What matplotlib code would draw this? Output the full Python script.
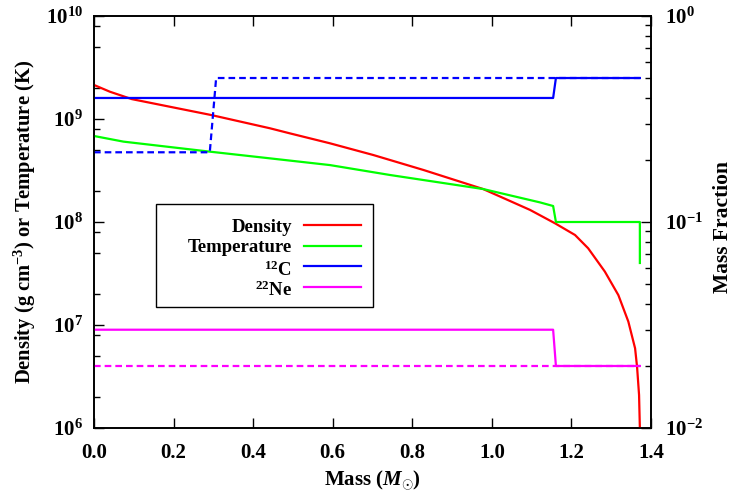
import math
import matplotlib
matplotlib.use("Agg")
import matplotlib.pyplot as plt
import matplotlib.ticker as mticker
from matplotlib.patches import Rectangle
from matplotlib.lines import Line2D

plt.rcParams['font.family'] = ['Liberation Serif', 'DejaVu Serif']
plt.rcParams['font.weight'] = 'bold'
plt.rcParams['mathtext.fontset'] = 'custom'
plt.rcParams['mathtext.rm'] = 'Liberation Serif:bold'
plt.rcParams['mathtext.bf'] = 'Liberation Serif:bold'
plt.rcParams['mathtext.it'] = 'Liberation Serif:italic'

# ---- data ----
dens_mass = [0.0, 0.04, 0.095, 0.296, 0.442, 0.492, 0.593, 0.702, 0.828, 0.978, 1.096,
             1.159, 1.209, 1.242, 1.284, 1.318, 1.343, 1.360, 1.365, 1.370, 1.372, 1.3725]
dens_vals = [2.14e9, 1.84e9, 1.56e9, 1.09e9, 8.13e8, 7.26e8, 5.81e8, 4.47e8, 3.20e8,
             2.09e8, 1.31e8, 9.7e7, 7.48e7, 5.56e7, 3.30e7, 1.95e7, 1.08e7, 5.94e6,
             3.91e6, 2.09e6, 1.0e6, 5.0e5]

temp_mass = [0.0, 0.074, 0.291, 0.442, 0.593, 0.744, 0.978, 1.121, 1.154, 1.161, 1.372, 1.372]
temp_vals = [6.84e8, 6.03e8, 4.82e8, 4.15e8, 3.57e8, 2.86e8, 2.09e8, 1.55e8, 1.43e8,
             1.0e8, 1.0e8, 4.0e7]

c12_mass = [0.0, 1.154, 1.161, 1.372]
c12_vals = [0.4, 0.4, 0.5, 0.5]
c12i_mass = [0.0, 0.291, 0.307, 1.372]
c12i_vals = [0.218, 0.218, 0.5, 0.5]

ne22_mass = [0.0, 1.154, 1.161, 1.372]
ne22_vals = [0.03, 0.03, 0.02, 0.02]
ne22i_mass = [0.0, 1.372]
ne22i_vals = [0.02, 0.02]

legend_labels = ['Density', 'Temperature', r'$^{12}$C', r'$^{22}$Ne']
colors = ['#ff0000', '#00ff00', '#0000ff', '#ff00ff']

# ---- figure ----
W, H = 733, 495
fig = plt.figure(figsize=(W / 100, H / 100), dpi=100)
L, R, T, B = 94, 651, 16, 428
ax = fig.add_axes([L / W, 1 - B / H, (R - L) / W, (B - T) / H])
ax2 = ax.twinx()

lw = 1.6
dash = (0, (3.0, 1.8))
ax.plot(dens_mass, dens_vals, color=colors[0], lw=lw, zorder=3)
ax.plot(temp_mass, temp_vals, color=colors[1], lw=lw, zorder=3)
ax2.plot(c12i_mass, c12i_vals, color=colors[2], lw=lw, ls=dash)
ax2.plot(c12_mass, c12_vals, color=colors[2], lw=lw)
ax2.plot(ne22i_mass, ne22i_vals, color=colors[3], lw=lw, ls=dash)
ax2.plot(ne22_mass, ne22_vals, color=colors[3], lw=lw)

ax.set_xlim(0, 1.4)
ax.set_yscale('log')
ax.set_ylim(1e6, 1e10)
ax2.set_yscale('log')
ax2.set_ylim(1e-2, 1)


def powfmt(v, pos):
    e = int(round(math.log10(v)))
    return r'$10^{%d}$' % e


ax.xaxis.set_major_locator(mticker.MultipleLocator(0.2))
ax.xaxis.set_major_formatter(mticker.FormatStrFormatter('%.1f'))
ax.yaxis.set_major_locator(mticker.LogLocator(base=10, numticks=10))
ax.yaxis.set_minor_locator(mticker.LogLocator(base=10, subs=[2, 5, 8], numticks=20))
ax.yaxis.set_minor_formatter(mticker.NullFormatter())
ax.yaxis.set_major_formatter(mticker.FuncFormatter(powfmt))
ax2.yaxis.set_major_locator(mticker.LogLocator(base=10, numticks=10))
ax2.yaxis.set_minor_locator(mticker.LogLocator(base=10, subs=range(2, 10), numticks=20))
ax2.yaxis.set_minor_formatter(mticker.NullFormatter())
ax2.yaxis.set_major_formatter(mticker.FuncFormatter(powfmt))

fs_tick = 15
ax.tick_params(axis='x', which='both', direction='in', top=True, bottom=True,
               length=7, width=1, labelsize=fs_tick, pad=11)
ax.tick_params(axis='y', which='major', direction='in', left=True, right=False,
               length=7, width=1, labelsize=fs_tick, pad=8)
ax.tick_params(axis='y', which='minor', direction='in', left=True, right=False,
               length=4, width=1)
ax2.tick_params(axis='y', which='major', direction='in', right=True, length=7,
                width=1, labelsize=fs_tick, pad=10)
ax2.tick_params(axis='y', which='minor', direction='in', right=True, length=4, width=1)

for a in (ax, ax2):
    for s in a.spines.values():
        s.set_linewidth(1.2)

ax.set_xlabel(r'Mass ($\mathit{M}_{\odot}$)', fontsize=15, fontweight='bold')
ax.xaxis.set_label_coords(0.5, (B - 480) / (B - T))
ax.xaxis.label.set_va('center')
ax.set_ylabel(r'Density (g cm$^{-3}$) or Temperature (K)', fontsize=14.8, fontweight='bold')
ax.yaxis.set_label_coords((25 - L) / (R - L), 0.5)
ax.yaxis.label.set_va('center')
ax2.set_ylabel('Mass Fraction', fontsize=15.5, fontweight='bold')
ax2.yaxis.set_label_coords((723 - L) / (R - L), (B - 227) / (B - T))
ax2.yaxis.label.set_va('center')
ax2.yaxis.label.set_ha('center')


# ---- legend box (manual, gnuplot style) ----
def px_x(px):
    return (px - L) / (R - L)


def px_y(py):
    return (B - py) / (B - T)


ax.add_patch(Rectangle((px_x(156), px_y(307)), px_x(373) - px_x(156), px_y(204) - px_y(307),
                       transform=ax.transAxes, fill=False, edgecolor='black', lw=1.0, zorder=5))
rows = [225, 245.7, 266, 286.7]
base_off = [6.5, 6.5, 9.5, 9.5]
for lab, col, ry, bo in zip(legend_labels, colors, rows, base_off):
    ax.add_line(Line2D([px_x(304), px_x(361)], [px_y(ry), px_y(ry)], transform=ax.transAxes,
                       color=col, lw=lw, zorder=6))
    ax.text(px_x(292), px_y(ry + bo), lab, transform=ax.transAxes, ha='right', va='baseline',
            fontsize=13.5, fontweight='bold', zorder=6)

fig.savefig('out.png', dpi=100)
